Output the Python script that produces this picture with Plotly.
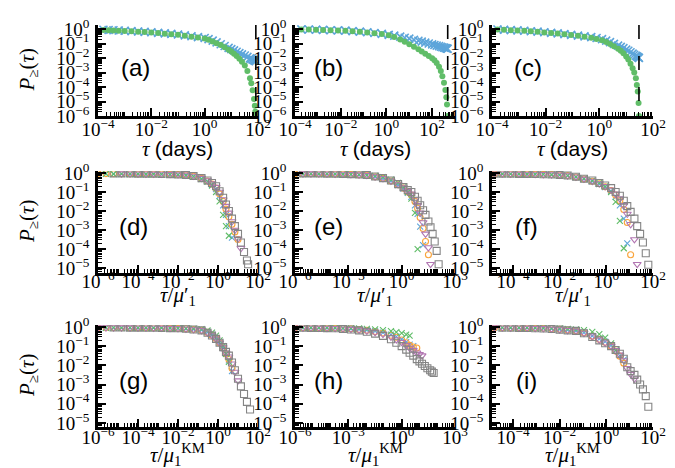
import plotly.graph_objects as go

# ---------------- Row 1 data (tau in days) ----------------
a_tau = [1.6e-4, 2.5e-4, 3.8e-4, 6e-4, 1e-3, 1.8e-3, 3.2e-3, 5.6e-3, 0.01, 0.018, 0.032, 0.056, 0.1, 0.18,
         0.32, 0.56, 1.0, 1.4, 2.0, 2.8, 4.0, 5.6, 7.9, 10, 12.6, 15.8, 20, 25, 32, 40, 50, 56, 63, 71, 76, 79, 83]
a_blue = [0.89, 0.86, 0.83, 0.79, 0.76, 0.72, 0.68, 0.64, 0.60, 0.55, 0.50, 0.46, 0.42, 0.37, 0.32, 0.28, 0.24,
          0.2, 0.16, 0.12, 0.09, 0.068, 0.05, 0.041, 0.034, 0.027, 0.022, 0.018, 0.015, 0.012, 0.0095, 0.0087,
          0.0078, 0.0072, 0.0068, 0.0065, 0.006]
a_green = [0.87, 0.84, 0.81, 0.77, 0.74, 0.7, 0.66, 0.62, 0.58, 0.53, 0.48, 0.44, 0.4, 0.35, 0.3, 0.26, 0.22,
           0.18, 0.14, 0.105, 0.078, 0.055, 0.037, 0.028, 0.02, 0.014, 0.009, 0.0055, 0.003, 0.0013, 4e-4,
           1.8e-4, 6e-5, 1.5e-5, 5e-6, 2e-6, 1e-6]

b_tau = [1.9e-4, 4e-4, 8.3e-4, 1.7e-3, 3.6e-3, 7.6e-3, 0.016, 0.033, 0.069, 0.145, 0.3, 0.63, 1.26, 2.2, 4.0,
         6.3, 10, 16, 25, 35, 50, 71, 100, 126, 158, 200, 240, 280, 330, 380, 417, 447, 479]
b_blue = [0.95, 0.93, 0.89, 0.87, 0.83, 0.81, 0.78, 0.72, 0.66, 0.6, 0.53, 0.46, 0.4, 0.35, 0.3, 0.25, 0.22,
          0.18, 0.155, 0.135, 0.117, 0.1, 0.087, 0.079, 0.072, 0.066, 0.06, 0.056, 0.052, 0.049, 0.047, 0.045,
          0.044]
b_green = [0.94, 0.92, 0.88, 0.86, 0.82, 0.8, 0.77, 0.71, 0.65, 0.59, 0.51, 0.45, 0.38, 0.28, 0.19, 0.132,
           0.089, 0.06, 0.04, 0.028, 0.02, 0.0138, 0.0095, 7e-3, 4.5e-3, 2.5e-3, 1.26e-3, 5.6e-4, 2e-4, 6.3e-5,
           2e-5, 6.3e-6, 1e-6]

c_tau = [1.6e-4, 2.8e-4, 5e-4, 8.9e-4, 1.6e-3, 2.8e-3, 5e-3, 8.9e-3, 0.016, 0.028, 0.05, 0.089, 0.16, 0.28,
         0.5, 0.79, 1.26, 1.8, 2.5, 3.5, 5, 6.3, 7.9, 10, 12, 14.5, 17.4, 20, 23, 25, 27, 29, 30]
c_blue = [0.93, 0.89, 0.85, 0.81, 0.76, 0.71, 0.66, 0.6, 0.55, 0.5, 0.45, 0.4, 0.355, 0.316, 0.275, 0.24, 0.2,
          0.158, 0.126, 0.095, 0.072, 0.059, 0.048, 0.038, 0.032, 0.025, 0.02, 0.017, 0.0145, 0.0129, 0.0117,
          0.0107, 0.01]
c_green = [0.92, 0.88, 0.84, 0.8, 0.75, 0.7, 0.65, 0.59, 0.54, 0.49, 0.44, 0.39, 0.345, 0.3, 0.25, 0.21, 0.166,
           0.126, 0.093, 0.066, 0.044, 0.032, 0.021, 0.0126, 7.9e-3, 4e-3, 2e-3, 1e-3, 4e-4, 1.4e-4, 5e-5,
           7.9e-6, 1e-6]

cutoff_days = [83, 480, 30]

# ---------------- Row 2 data (tau / mu'_1) ----------------
N = None
d_tau = [1e-6, 2.5e-6, 6e-6, 1.5e-5, 4e-5, 1e-4, 2.5e-4, 6e-4, 1.5e-3, 4e-3, 0.01, 0.025, 0.06, 0.15, 0.3, 0.5,
         0.8, 1.2, 1.8, 2.5, 3.5, 5, 7, 10, 14, 20, 28, 32]
d_blue = [0.9, 0.92, 0.91, 0.9, 0.9, 0.89, 0.88, 0.87, 0.86, 0.84, 0.81, 0.76, 0.66, 0.5, 0.36, 0.24, 0.14,
          0.063, 0.02, 6.3e-3, 1.6e-3, 4e-4, N, N, N, N, N, N]
d_orange = [0.93, 0.93, 0.92, 0.92, 0.91, 0.9, 0.9, 0.89, 0.88, 0.86, 0.83, 0.78, 0.68, 0.52, 0.38, 0.26, 0.16,
            0.08, 0.032, 0.0126, 5e-3, 2e-3, 8e-4, 3.2e-4, N, N, N, N]
d_green = [N, 0.9, 0.88, 0.9, 0.87, 0.88, 0.86, 0.86, 0.84, 0.83, 0.8, 0.75, 0.64, 0.48, 0.35, 0.22, 0.1, 0.032,
           6.3e-3, 1.6e-3, 5e-4, N, N, N, N, N, N, N]
d_purple = [N, N, N, 0.93, 0.92, 0.92, 0.91, 0.9, 0.89, 0.87, 0.84, 0.8, 0.7, 0.54, 0.4, 0.28, 0.18, 0.1, 0.04,
            0.018, 8e-3, 2.8e-3, 1e-3, 3.5e-4, 1.1e-4, N, N, N]
d_gray = [N, N, 0.95, 0.95, 0.94, 0.93, 0.92, 0.91, 0.89, 0.87, 0.84, 0.79, 0.69, 0.54, 0.40, 0.30, 0.20, 0.11,
          0.05, 0.022, 0.01, 4e-3, 1.6e-3, 6.3e-4, 2.2e-4, 7e-5, 2.5e-5, 1.6e-5]

e_tau = [1e-6, 2.8e-6, 7.9e-6, 2.2e-5, 6.3e-5, 1.8e-4, 5e-4, 1.4e-3, 4e-3, 0.011, 0.032, 0.089, 0.25, 0.63,
         1.26, 2.2, 3.5, 5.6, 7.9, 11, 16, 22, 32, 42, 55, 72, 93, 120]
e_blue = [0.92, 0.92, 0.92, 0.91, 0.9, 0.89, 0.87, 0.84, 0.8, 0.75, 0.63, 0.51, 0.37, 0.23, 0.15, 0.09, 0.055,
          0.02, 7e-3, 1.5e-3, 1.6e-4, N, N, N, N, N, N, N]
e_orange = [0.9, 0.92, 0.93, 0.92, 0.91, 0.9, 0.88, 0.85, 0.81, 0.76, 0.64, 0.52, 0.38, 0.24, 0.16, 0.1, 0.07,
            0.032, 0.014, 4.5e-3, 1.2e-3, 2.5e-4, 5e-5, N, N, N, N, N]
e_green = [N, 0.88, 0.9, 0.88, 0.89, 0.87, 0.86, 0.85, 0.82, 0.78, 0.7, 0.6, 0.45, 0.3, 0.18, 0.1, 0.045, 8e-3,
           1e-4, N, N, N, N, N, N, N, N, N]
e_purple = [N, 0.93, 0.93, 0.92, 0.92, 0.91, 0.89, 0.86, 0.82, 0.77, 0.65, 0.53, 0.39, 0.25, 0.17, 0.11, 0.08,
            0.04, 0.02, 8e-3, 2.5e-3, 6.3e-4, 1.2e-4, 1.6e-5, N, N, N, N]
e_gray = [N, 0.95, 0.95, 0.94, 0.93, 0.92, 0.9, 0.87, 0.83, 0.78, 0.66, 0.54, 0.4, 0.26, 0.18, 0.126, 0.1, 0.056,
          0.035, 0.02, 0.011, 6.3e-3, 2.8e-3, 1.4e-3, 6.3e-4, 2.5e-4, 8e-5, 1.6e-5]

f_tau = [1.6e-5, 3.5e-5, 7.9e-5, 1.8e-4, 4e-4, 8.9e-4, 2e-3, 4.5e-3, 0.01, 0.022, 0.05, 0.11, 0.25, 0.5, 0.89,
         1.6, 2.5, 3.8, 5.6, 7.9, 11, 16, 21, 28, 37, 49, 63]
f_blue = [0.91, 0.9, 0.9, 0.89, 0.88, 0.87, 0.85, 0.82, 0.78, 0.72, 0.61, 0.47, 0.36, 0.26, 0.18, 0.11, 0.055,
          0.02, 4e-3, 2e-4, N, N, N, N, N, N, N]
f_orange = [0.9, 0.91, 0.9, 0.9, 0.89, 0.87, 0.85, 0.83, 0.79, 0.73, 0.62, 0.48, 0.37, 0.27, 0.19, 0.12, 0.07,
            0.035, 0.012, 2.5e-3, 5e-5, N, N, N, N, N, N]
f_green = [N, 0.88, 0.87, 0.88, 0.86, 0.85, 0.84, 0.81, 0.78, 0.72, 0.62, 0.5, 0.4, 0.3, 0.2, 0.1, 0.03, 3e-3,
           1.1e-4, N, N, N, N, N, N, N, N]
f_purple = [0.92, 0.92, 0.91, 0.9, 0.89, 0.88, 0.86, 0.83, 0.8, 0.74, 0.63, 0.49, 0.38, 0.28, 0.2, 0.13, 0.08,
            0.045, 0.02, 7e-3, 2e-3, 3.2e-4, 1.6e-5, N, N, N, N]
f_gray = [0.93, 0.92, 0.91, 0.9, 0.89, 0.88, 0.86, 0.84, 0.8, 0.74, 0.64, 0.5, 0.4, 0.3, 0.22, 0.16, 0.1, 0.063,
          0.035, 0.018, 9e-3, 4e-3, 1.6e-3, 6.3e-4, 2.2e-4, 6e-5, 1.5e-5]

# ---------------- Row 3 data (tau / mu_1^KM) ----------------
g_tau = [1e-6, 2.5e-6, 6e-6, 1.5e-5, 4e-5, 1e-4, 2.5e-4, 6e-4, 1.5e-3, 4e-3, 0.01, 0.025, 0.06, 0.15, 0.3, 0.5,
         0.8, 1.2, 1.8, 2.5, 3.5, 5, 7, 10, 14, 20, 28, 40]
g_blue = [0.92, 0.92, 0.91, 0.91, 0.91, 0.9, 0.9, 0.89, 0.88, 0.86, 0.84, 0.8, 0.75, 0.68, 0.53, 0.38, 0.26,
          0.15, 0.08, 0.04, 0.018, 5e-3, N, N, N, N, N, N]
g_orange = [0.92, 0.92, 0.92, 0.92, 0.91, 0.91, 0.9, 0.9, 0.88, 0.87, 0.84, 0.8, 0.74, 0.67, 0.52, 0.37, 0.25,
            0.15, 0.08, 0.04, 0.02, 7e-3, N, N, N, N, N, N]
g_green = [N, 0.9, 0.92, 0.9, 0.91, 0.9, 0.9, 0.89, 0.89, 0.88, 0.87, 0.85, 0.82, 0.76, 0.65, 0.5, 0.35, 0.2,
           0.1, 0.04, 0.015, N, N, N, N, N, N, N]
g_purple = [0.93, 0.93, 0.93, 0.92, 0.92, 0.91, 0.91, 0.9, 0.89, 0.87, 0.85, 0.8, 0.74, 0.66, 0.5, 0.36, 0.24,
            0.15, 0.085, 0.045, 0.028, 0.012, 4.5e-3, 1.6e-3, N, N, N, N]
g_gray = [N, N, 0.93, 0.93, 0.92, 0.92, 0.91, 0.9, 0.89, 0.87, 0.85, 0.8, 0.74, 0.66, 0.5, 0.355, 0.24, 0.15,
          0.089, 0.05, 0.032, 0.014, 5.6e-3, 2e-3, 8e-4, 3.2e-4, 1.26e-4, 5e-5]

h_tau = [1e-6, 2.8e-6, 7.9e-6, 2.2e-5, 6.3e-5, 1.8e-4, 5e-4, 1.4e-3, 4e-3, 0.011, 0.032, 0.089, 0.25, 0.5, 1.0,
         1.8, 2.8, 4.5, 7.1, 10, 14, 20, 28, 40, 50, 63]
h_blue = [0.91, 0.9, 0.9, 0.89, 0.88, 0.87, 0.84, 0.8, 0.75, 0.68, 0.6, 0.5, 0.4, 0.31, 0.23, 0.16, 0.12, 0.1,
          N, N, N, N, N, N, N, N]
h_orange = [0.9, 0.91, 0.9, 0.9, 0.89, 0.87, 0.83, 0.8, 0.74, 0.67, 0.58, 0.48, 0.37, 0.29, 0.21, 0.15, 0.11,
            0.09, 0.08, N, N, N, N, N, N, N]
h_green = [N, 0.93, 0.92, 0.92, 0.91, 0.9, 0.88, 0.86, 0.83, 0.79, 0.74, 0.68, 0.6, 0.53, 0.47, 0.4, 0.35,
           N, N, N, N, N, N, N, N, N]
h_purple = [0.9, 0.9, 0.9, 0.89, 0.88, 0.86, 0.81, 0.77, 0.7, 0.62, 0.52, 0.42, 0.3, 0.22, 0.16, 0.11, 0.08,
            0.06, 0.045, 0.038, 0.032, N, N, N, N, N]
h_gray = [N, 0.9, 0.89, 0.88, 0.87, 0.85, 0.79, 0.74, 0.66, 0.56, 0.45, 0.34, 0.23, 0.15, 0.1, 0.066, 0.045,
          0.032, 0.021, 0.016, 0.012, 9.3e-3, 7e-3, 5.6e-3, 4.7e-3, 4e-3]

i_tau = [1.6e-5, 3.5e-5, 7.9e-5, 1.8e-4, 4e-4, 8.9e-4, 2e-3, 4.5e-3, 0.01, 0.022, 0.05, 0.11, 0.25, 0.5, 0.89,
         1.6, 2.5, 3.8, 5.6, 7.9, 11, 16, 21, 28, 37, 49, 63]
i_blue = [0.9, 0.91, 0.9, 0.89, 0.89, 0.87, 0.85, 0.8, 0.75, 0.69, 0.63, 0.5, 0.34, 0.24, 0.17, 0.11, 0.06,
          0.032, 0.02, N, N, N, N, N, N, N, N]
i_orange = [0.91, 0.91, 0.9, 0.9, 0.89, 0.87, 0.85, 0.8, 0.75, 0.69, 0.63, 0.5, 0.33, 0.23, 0.16, 0.1, 0.055,
            0.03, 0.013, N, N, N, N, N, N, N, N]
i_green = [N, 0.93, 0.92, 0.92, 0.91, 0.9, 0.88, 0.86, 0.83, 0.8, 0.75, 0.68, 0.55, 0.42, 0.28, 0.14, 0.06,
           N, N, N, N, N, N, N, N, N, N]
i_purple = [0.92, 0.91, 0.9, 0.9, 0.89, 0.87, 0.84, 0.79, 0.73, 0.67, 0.62, 0.48, 0.31, 0.21, 0.15, 0.1, 0.06,
            0.035, 0.018, 7e-3, 3.5e-3, 2e-3, N, N, N, N, N]
i_gray = [N, 0.9, 0.9, 0.89, 0.88, 0.86, 0.83, 0.78, 0.72, 0.66, 0.62, 0.47, 0.3, 0.2, 0.14, 0.1, 0.063, 0.04,
          0.022, 7.9e-3, 5e-3, 3.2e-3, 1.8e-3, 1e-3, 5.6e-4, 2.5e-4, 7e-5]

panel_letters = ["(a)", "(b)", "(c)", "(d)", "(e)", "(f)", "(g)", "(h)", "(i)"]

# ---------------- styling ----------------
BLUE, ORANGE, GREEN, PURPLE, GRAY = "#5DA5DA", "#FAA43A", "#60BD68", "#B276B2", "#858585"
W, H = 675, 468
col_px = [(90, 250), (287, 447), (484, 645)]
row_px = [(17, 108), (163, 265), (317, 419)]
yranges = [[-6, 0.28], [-5.26, 0.105], [-5.21, 0.1]]
xlabel_standoff = [-6, -11, -9]
xranges = [[-4, 2], [-4, 3], [-4, 2], [-6, 2], [-6, 3], [-4.9, 2], [-6, 2], [-6, 3], [-4.9, 2]]
xtick_exp = [[-4, -2, 0, 2], [-4, -2, 0, 2], [-4, -2, 0, 2],
             [-6, -4, -2, 0, 2], [-6, -3, 0, 3], [-4, -2, 0, 2],
             [-6, -4, -2, 0, 2], [-6, -3, 0, 3], [-4, -2, 0, 2]]
ytick_exp = [[0, -1, -2, -3, -4, -5, -6], [0, -1, -2, -3, -4, -5], [0, -1, -2, -3, -4, -5]]
SERIF = "Liberation Serif, DejaVu Serif, serif"
SANS = "Liberation Sans, Arial, sans-serif"
TICKFONT = dict(family=SERIF, size=19, color="black")


def pow_label(e):
    return "10<sup>%s%d</sup>" % ("\u2212" if e < 0 else "", abs(e))


minor_vals = [m * 10.0 ** k for k in range(-8, 5) for m in range(1, 10)]

fig = go.Figure()

row1 = [(a_tau, a_blue, a_green), (b_tau, b_blue, b_green), (c_tau, c_blue, c_green)]
rows23 = [(d_tau, d_blue, d_orange, d_green, d_purple, d_gray),
          (e_tau, e_blue, e_orange, e_green, e_purple, e_gray),
          (f_tau, f_blue, f_orange, f_green, f_purple, f_gray),
          (g_tau, g_blue, g_orange, g_green, g_purple, g_gray),
          (h_tau, h_blue, h_orange, h_green, h_purple, h_gray),
          (i_tau, i_blue, i_orange, i_green, i_purple, i_gray)]

layout_axes = {}
for p in range(9):
    r, c = divmod(p, 3)
    idx = p + 1
    xname = "xaxis" if idx == 1 else "xaxis%d" % idx
    yname = "yaxis" if idx == 1 else "yaxis%d" % idx
    xref = "x" if idx == 1 else "x%d" % idx
    yref = "y" if idx == 1 else "y%d" % idx
    x0, x1 = col_px[c]
    y0, y1 = row_px[r]
    common = dict(type="log", showgrid=False, zeroline=False, showline=True, linecolor="black", linewidth=2.5,
                  ticks="inside", ticklen=8, tickwidth=1.5, tickcolor="black", tickfont=TICKFONT,
                  tickmode="array", automargin=False,
                  minor=dict(tickmode="array", tickvals=minor_vals, ticks="inside", ticklen=4, tickwidth=1,
                             tickcolor="black", showgrid=False))
    layout_axes[xname] = dict(common, domain=[x0 / W, x1 / W], anchor=yref, range=xranges[p],
                              tickvals=[10.0 ** e for e in xtick_exp[p]],
                              ticktext=[pow_label(e) for e in xtick_exp[p]], tickangle=0,
                              ticklabelstandoff=xlabel_standoff[r])
    layout_axes[yname] = dict(common, domain=[1 - y1 / H, 1 - y0 / H], anchor=xref, range=yranges[r],
                              tickvals=[10.0 ** e for e in ytick_exp[r]],
                              ticktext=(["10<sup>0</sup>"] + [pow_label(e) for e in ytick_exp[r][1:]]),
                              ticklabelstandoff=2)

    if r == 0:
        tau, blue, green = row1[c]
        fig.add_trace(go.Scatter(x=tau, y=blue, mode="markers", xaxis=xref, yaxis=yref, showlegend=False,
                                 marker=dict(symbol="x-thin", size=8, line=dict(color=BLUE, width=1.6))))
        fig.add_trace(go.Scatter(x=tau, y=green, mode="markers", xaxis=xref, yaxis=yref, showlegend=False,
                                 marker=dict(symbol="circle", size=6, color=GREEN)))
        fig.add_shape(type="line", xref=xref, yref=yref + " domain", x0=cutoff_days[c], x1=cutoff_days[c],
                      y0=1, y1=0, line=dict(color="black", width=1.6, dash="14px,17px"))
    else:
        tau, blue, orange, green, purple, gray = rows23[p - 3]
        styles = [(blue, "x-thin", BLUE, 6), (orange, "circle-open", ORANGE, 6),
                  (green, "x-thin", GREEN, 6), (purple, "triangle-down-open", PURPLE, 7),
                  (gray, "square-open", GRAY, 7)]
        for vals, sym, col, sz in styles:
            fig.add_trace(go.Scatter(x=tau, y=vals, mode="markers", xaxis=xref, yaxis=yref, showlegend=False,
                                     marker=dict(symbol=sym, size=sz, color=col, line=dict(color=col, width=1.1))))

# ---------------- annotations ----------------
ann = []
label_px = [(127, 60), (320, 60), (520, 60), (125, 218), (320, 218), (518, 218), (125, 372), (320, 372),
            (518, 372)]
for p, (lx, ly) in enumerate(label_px):
    ann.append(dict(text=panel_letters[p], x=lx / W, y=1 - ly / H, xref="paper", yref="paper", showarrow=False,
                    xanchor="center", yanchor="middle", font=dict(family=SANS, size=24, color="black")))

ytitle = "<i>P</i><sub>\u2265</sub>(<i>\u03c4</i>)"
for r, (y0, y1) in enumerate(row_px):
    ann.append(dict(text=ytitle, x=20 / W, y=1 - (y0 + y1) / 2 / H, xref="paper", yref="paper", showarrow=False,
                    textangle=-90, xanchor="center", yanchor="middle",
                    font=dict(family=SERIF, size=21, color="black")))

xtitles = ["<i>\u03c4</i> <span style='font-family:Liberation Sans'>(days)</span>",
           "<i>\u03c4</i>/<i>\u03bc</i>\u2032<sub>1</sub>",
           "<i>\u03c4</i>/<i>\u03bc</i><sub>1</sub><sup>KM</sup>"]
xtitle_y = [141, 288, 446]
for r in range(3):
    for c, (x0, x1) in enumerate(col_px):
        ann.append(dict(text=xtitles[r], x=(x0 + x1) / 2 / W, y=1 - xtitle_y[r] / H, xref="paper", yref="paper",
                        showarrow=False, xanchor="center", yanchor="middle",
                        font=dict(family=SERIF, size=21, color="black")))

fig.update_layout(width=W, height=H, margin=dict(l=0, r=0, t=0, b=0, pad=0, autoexpand=False),
                  plot_bgcolor="white", paper_bgcolor="white", font=dict(family=SERIF, color="black"),
                  annotations=ann, **layout_axes)

fig.write_html("out.html")
